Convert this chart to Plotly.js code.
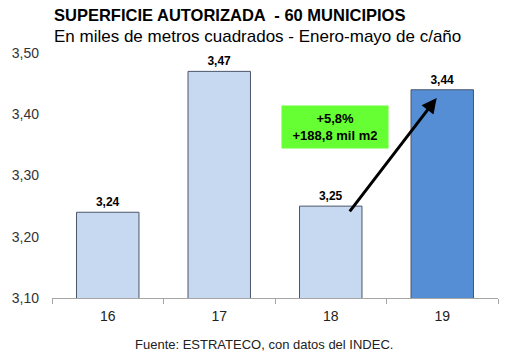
<!DOCTYPE html>
<html><head><meta charset="utf-8">
<script src="https://cdn.plot.ly/plotly-3.0.1.min.js"></script>
<style>body{margin:0;background:#fff}#c{width:530px;height:355px}</style>
</head><body><div id="c"></div>
<script>
const years = ["16", "17", "18", "19"];
const values = [3.24, 3.47, 3.25, 3.44];
const valueLabels = ["3,24", "3,47", "3,25", "3,44"];
const yTicks = [3.1, 3.2, 3.3, 3.4, 3.5];
const yTickLabels = ["3,10", "3,20", "3,30", "3,40", "3,50"];
const changeText = "+5,8%<br>+188,8 mil m2";

const colors = values.map((v, i) => i === values.length - 1 ? "#558ED5" : "#C6D9F1");
const F = "Liberation Sans, Arial, sans-serif";

const trace = {
  type: "bar", x: years, y: values,
  marker: {color: colors, line: {color: "#4A5568", width: 1}},
  text: valueLabels, textposition: "outside", cliponaxis: false,
  textfont: {family: F, size: 12, color: "#000", weight: "bold"},
  width: 0.56, hoverinfo: "none"
};

const layout = {
  width: 530, height: 355,
  margin: {l: 52, r: 32, t: 53, b: 57},
  paper_bgcolor: "#fff", plot_bgcolor: "#fff",
  showlegend: false,
  xaxis: {
    type: "category", showgrid: false, zeroline: false,
    showline: true, linecolor: "#A6A6A6", linewidth: 1,
    ticks: "outside", ticklen: 5, tickcolor: "#A6A6A6", tickson: "boundaries",
    ticklabelstandoff: 5,
    tickfont: {family: F, size: 14, color: "#222"}
  },
  yaxis: {
    range: [3.1, 3.5], showgrid: false, zeroline: false, showline: false,
    tickvals: yTicks, ticktext: yTickLabels, ticks: "", ticklabelstandoff: 12,
    tickfont: {family: F, size: 14, color: "#333"}
  },
  annotations: [
    {xref: "paper", yref: "paper", x: 0, y: 1, yshift: 27, xanchor: "left", yanchor: "bottom",
     text: "<b>SUPERFICIE AUTORIZADA  - 60 MUNICIPIOS</b>", showarrow: false,
     font: {family: F, size: 16.5, color: "#000"}},
    {xref: "paper", yref: "paper", x: 0, y: 1, yshift: 5, xanchor: "left", yanchor: "bottom",
     text: "En miles de metros cuadrados - Enero-mayo de c/año", showarrow: false,
     font: {family: F, size: 17, color: "#000"}},
    {xref: "paper", yref: "paper", x: 0.475, y: 0, yshift: -56, xanchor: "center", yanchor: "bottom",
     text: "Fuente: ESTRATECO, con datos del INDEC.", showarrow: false,
     font: {family: F, size: 13, color: "#222"}},
    {xref: "x", yref: "y", x: 2.04, y: 3.379, text: "<b>" + changeText + "</b>", showarrow: false,
     bgcolor: "#66FF33", width: 104, height: 40, align: "center",
     font: {family: F, size: 13, color: "#000"}},
    {xref: "x", yref: "y", axref: "x", ayref: "y",
     x: 2.95, y: 3.4265, ax: 2.16, ay: 3.239,
     showarrow: true, arrowhead: 2, arrowsize: 1, arrowwidth: 3, arrowcolor: "#000", text: ""}
  ]
};
Plotly.newPlot("c", [trace], layout, {staticPlot: true, displayModeBar: false});
</script></body></html>
